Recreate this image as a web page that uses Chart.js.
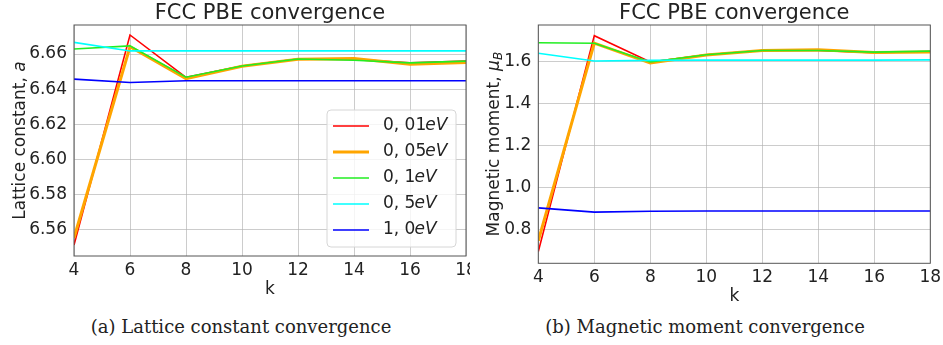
<!DOCTYPE html>
<html>
<head>
<meta charset="utf-8">
<script src="https://cdn.jsdelivr.net/npm/chart.js@4.4.0/dist/chart.umd.min.js"></script>
<style>
body { margin: 0; background: #fff; width: 943px; height: 345px; overflow: hidden; position: relative; }
.wrap { position: absolute; top: 0; }
.caption { position: absolute; top: 316px; font-family: "DejaVu Serif", serif; font-size: 18px; color: #222; text-align: center; }
</style>
</head>
<body>
<div class="wrap" style="left:0"><canvas id="latticeChart" width="470" height="300"></canvas></div>
<div class="wrap" style="left:470px"><canvas id="momentChart" width="473" height="307"></canvas></div>
<div class="caption" style="left:0;width:482px">(a) Lattice constant convergence</div>
<div class="caption" style="left:470px;width:470px">(b) Magnetic moment convergence</div>

<script>
// k-point grid and smearing widths
const kPoints = [4, 6, 8, 10, 12, 14, 16, 18];
const smearLabels = ['0, 01', '0, 05', '0, 1', '0, 5', '1, 0'];
const smearColors = ['#ff0000', '#ffa500', '#22ee22', '#00ffff', '#0000ff'];
const smearWidths = [1.6, 3, 1.6, 1.6, 1.6];

// lattice constant (a), one array per smearing
const lattice001 = [6.551, 6.6709, 6.6467, 6.6532, 6.6572, 6.6570, 6.6550, 6.6560];
const lattice005 = [6.555, 6.6642, 6.6460, 6.6530, 6.6570, 6.6574, 6.6542, 6.6552];
const lattice01  = [6.6629, 6.6647, 6.6468, 6.6532, 6.6572, 6.6565, 6.6550, 6.6560];
const lattice05  = [6.6667, 6.6618, 6.6618, 6.6618, 6.6618, 6.6618, 6.6618, 6.6618];
const lattice10  = [6.6457, 6.6438, 6.6448, 6.6448, 6.6448, 6.6448, 6.6448, 6.6448];
const latticeTicks = [6.56, 6.58, 6.60, 6.62, 6.64, 6.66];

// magnetic moment (mu_B)
const moment001 = [0.693, 1.726, 1.600, 1.635, 1.655, 1.655, 1.645, 1.650];
const moment005 = [0.745, 1.690, 1.595, 1.633, 1.655, 1.658, 1.645, 1.648];
const moment01  = [1.692, 1.690, 1.600, 1.635, 1.655, 1.655, 1.647, 1.652];
const moment05  = [1.642, 1.605, 1.608, 1.609, 1.609, 1.609, 1.609, 1.610];
const moment10  = [0.902, 0.882, 0.886, 0.887, 0.887, 0.887, 0.887, 0.887];
const momentTicks = [0.8, 1.0, 1.2, 1.4, 1.6];

const FONT = "'DejaVu Sans', sans-serif";
const TEXT = '#222';

function makeDatasets(series) {
    return series.map((vals, i) => ({
        label: smearLabels[i] + 'eV',
        data: vals.map((v, j) => ({ x: kPoints[j], y: v })),
        borderColor: smearColors[i],
        backgroundColor: smearColors[i],
        borderWidth: smearWidths[i],
        pointRadius: 0,
        tension: 0,
        // red drawn first, blue on top
        order: series.length - i
    }));
}

// box around plot area (matplotlib spines)
const frameBox = {
    id: 'frameBox',
    afterDatasetsDraw(chart) {
        const { ctx, chartArea: a } = chart;
        ctx.save();
        ctx.strokeStyle = '#555';
        ctx.lineWidth = 1;
        ctx.strokeRect(a.left, a.top, a.right - a.left, a.bottom - a.top);
        ctx.restore();
    }
};

// title centred over plot area
const plotTitle = {
    id: 'plotTitle',
    afterDraw(chart, args, opts) {
        const { ctx, chartArea: a } = chart;
        ctx.save();
        ctx.font = '21px ' + FONT;
        ctx.fillStyle = TEXT;
        ctx.textAlign = 'center';
        ctx.textBaseline = 'alphabetic';
        ctx.fillText(opts.text, (a.left + a.right) / 2, opts.y);
        ctx.restore();
    }
};

// rotated y title with math parts
const yTitle = {
    id: 'yTitle',
    afterDraw(chart, args, opts) {
        const { ctx, chartArea: a } = chart;
        ctx.save();
        ctx.translate(opts.x, (a.top + a.bottom) / 2);
        ctx.rotate(-Math.PI / 2);
        ctx.fillStyle = TEXT;
        ctx.textBaseline = 'alphabetic';
        let total = 0;
        opts.parts.forEach(p => { ctx.font = p.font; total += ctx.measureText(p.text).width; });
        let x = -total / 2;
        opts.parts.forEach(p => {
            ctx.font = p.font;
            ctx.fillText(p.text, x, p.dy || 0);
            x += ctx.measureText(p.text).width;
        });
        ctx.restore();
    }
};

// legend inside the plot, lower right
const mathLegend = {
    id: 'mathLegend',
    afterDraw(chart, args, opts) {
        if (!opts.show) return;
        const { ctx, chartArea: a } = chart;
        const sets = chart.data.datasets;
        const w = 129, rowH = 26;
        const h = sets.length * rowH + 7;
        const x0 = a.right - 10 - w, y0 = a.bottom - 9 - h;
        ctx.save();
        ctx.fillStyle = 'rgba(255,255,255,0.8)';
        ctx.strokeStyle = '#d6d6d6';
        ctx.lineWidth = 1;
        ctx.beginPath();
        ctx.roundRect(x0, y0, w, h, 4);
        ctx.fill();
        ctx.stroke();
        sets.forEach((ds, i) => {
            const cy = y0 + 16 + i * rowH;
            ctx.strokeStyle = ds.borderColor;
            ctx.lineWidth = ds.borderWidth;
            ctx.beginPath();
            ctx.moveTo(x0 + 6, cy);
            ctx.lineTo(x0 + 42, cy);
            ctx.stroke();
            ctx.fillStyle = TEXT;
            ctx.textBaseline = 'middle';
            ctx.font = '17px ' + FONT;
            ctx.fillText(smearLabels[i], x0 + 56, cy);
            const tw = ctx.measureText(smearLabels[i]).width;
            ctx.font = 'italic 17px ' + FONT;
            ctx.fillText('eV', x0 + 55 + tw, cy);
        });
        ctx.restore();
    }
};

function makeChart(id, series, yMin, yMax, yTickVals, dims, yParts, showLegend) {
    return new Chart(document.getElementById(id), {
        type: 'line',
        data: { datasets: makeDatasets(series) },
        plugins: [frameBox, plotTitle, yTitle, mathLegend],
        options: {
            responsive: false,
            animation: false,
            layout: { padding: { top: 25, right: dims.right, left: 0, bottom: 0 } },
            plugins: {
                legend: { display: false },
                tooltip: { enabled: false },
                plotTitle: { text: 'FCC PBE convergence', y: 19 },
                yTitle: { x: dims.yTitleX, parts: yParts },
                mathLegend: { show: showLegend }
            },
            scales: {
                x: {
                    type: 'linear',
                    min: 4,
                    max: 18,
                    ticks: { stepSize: 2, color: TEXT, font: { family: FONT, size: 17 }, padding: 4, maxRotation: 0 },
                    grid: { color: 'rgba(176,176,176,0.65)', drawTicks: false },
                    border: { display: false },
                    title: { display: true, text: 'k', color: TEXT, font: { family: FONT, size: 17 }, padding: 0 },
                    afterFit(scale) {
                        scale.height = dims.xHeight;
                        scale.paddingLeft = 0;
                        scale.paddingRight = 0;
                    }
                },
                y: {
                    min: yMin,
                    max: yMax,
                    afterBuildTicks(scale) {
                        scale.ticks = yTickVals.map(v => ({ value: v }));
                    },
                    ticks: {
                        color: TEXT,
                        font: { family: FONT, size: 17 },
                        padding: 7,
                        callback: v => v.toFixed(dims.decimals)
                    },
                    grid: { color: 'rgba(176,176,176,0.65)', drawTicks: false },
                    border: { display: false },
                    afterFit(scale) {
                        scale.width = dims.yWidth;
                        scale.paddingTop = 0;
                        scale.paddingBottom = 0;
                    }
                }
            }
        }
    });
}

makeChart('latticeChart',
    [lattice001, lattice005, lattice01, lattice05, lattice10],
    6.5447, 6.6766, latticeTicks,
    { right: 4, yWidth: 74, xHeight: 44, yTitleX: 25, decimals: 2 },
    [
        { text: 'Lattice constant, ', font: '17px ' + FONT },
        { text: 'a', font: 'italic 17px ' + FONT }
    ],
    true);

makeChart('momentChart',
    [moment001, moment005, moment01, moment05, moment10],
    0.637, 1.777, momentTicks,
    { right: 12.7, yWidth: 68.3, xHeight: 43.7, yTitleX: 29, decimals: 1 },
    [
        { text: 'Magnetic moment, ', font: '17px ' + FONT },
        { text: 'μ', font: 'italic 17px ' + FONT },
        { text: 'B', font: 'italic 12px ' + FONT, dy: 3 }
    ],
    false);
</script>
</body>
</html>
